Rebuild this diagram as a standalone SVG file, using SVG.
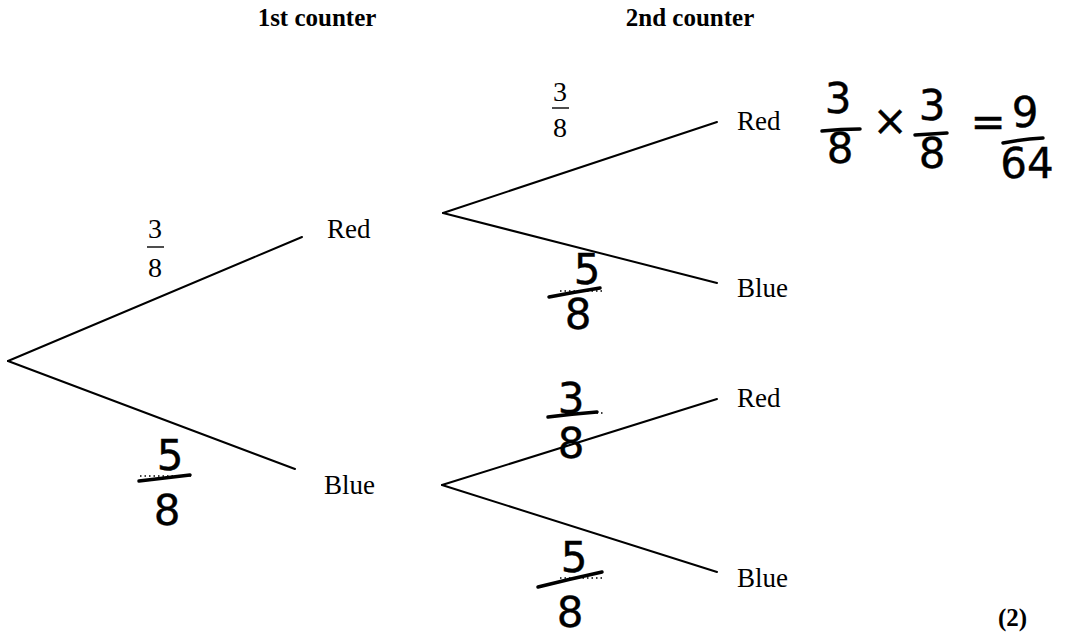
<svg xmlns="http://www.w3.org/2000/svg" width="1067" height="636" viewBox="0 0 1067 636">
  <style>
    .branch { stroke: #000; stroke-width: 2; fill: none; stroke-linecap: round; }
    .label { font-family: "Liberation Serif", "Times New Roman", serif; font-size: 27px; fill: #000; }
    .head { font-family: "Liberation Serif", "Times New Roman", serif; font-size: 25px; font-weight: bold; fill: #000; }
    .frac { font-family: "Liberation Serif", "Times New Roman", serif; font-size: 28px; fill: #000; text-anchor: middle; }
    .fbar { stroke: #000; stroke-width: 1.4; }
    .hand { font-family: "DejaVu Sans", "Noto Sans", sans-serif; font-size: 42px; fill: #000; stroke: #000; stroke-width: 0.4; text-anchor: middle; }
    .hbar { stroke: #000; stroke-width: 3.5; stroke-linecap: round; fill: none; }
    .dots { stroke: #000; stroke-width: 1.6; stroke-dasharray: 1.5 3; }
  </style>

  <!-- column headings -->
  <g id="headings">
    <text class="head" x="317" y="26" text-anchor="middle">1st counter</text>
    <text class="head" x="690" y="26" text-anchor="middle">2nd counter</text>
  </g>

  <!-- tree branches -->
  <g id="connectors">
    <line class="branch" x1="8" y1="361" x2="302" y2="237"/>
    <line class="branch" x1="8" y1="361" x2="295" y2="469"/>
    <line class="branch" x1="443" y1="213" x2="717" y2="122"/>
    <line class="branch" x1="443" y1="213" x2="717" y2="283"/>
    <line class="branch" x1="442" y1="485" x2="717" y2="399"/>
    <line class="branch" x1="442" y1="485" x2="717" y2="572"/>
  </g>

  <!-- first counter outcomes -->
  <g id="node-red-1">
    <text class="label" x="327" y="238">Red</text>
  </g>
  <g id="node-blue-1">
    <text class="label" x="324" y="494">Blue</text>
  </g>

  <!-- second counter outcomes -->
  <g id="node-red-red">
    <text class="label" x="737" y="130">Red</text>
  </g>
  <g id="node-red-blue">
    <text class="label" x="737" y="297">Blue</text>
  </g>
  <g id="node-blue-red">
    <text class="label" x="737" y="407">Red</text>
  </g>
  <g id="node-blue-blue">
    <text class="label" x="737" y="587">Blue</text>
  </g>

  <!-- printed branch probabilities -->
  <g id="prob-red-1">
    <text class="frac" x="155" y="238">3</text>
    <line class="fbar" x1="147" y1="247" x2="164" y2="247"/>
    <text class="frac" x="155" y="277">8</text>
  </g>
  <g id="prob-red-red">
    <text class="frac" x="560" y="101">3</text>
    <line class="fbar" x1="552" y1="108" x2="569" y2="108"/>
    <text class="frac" x="560" y="137">8</text>
  </g>

  <!-- written-in branch probabilities -->
  <g id="prob-blue-1">
    <line class="dots" x1="140" y1="476" x2="192" y2="476"/>
    <text class="hand" x="170" y="470">5</text>
    <path class="hbar" d="M139 481 Q165 478 190 475"/>
    <text class="hand" x="167" y="525">8</text>
  </g>
  <g id="prob-red-blue">
    <line class="dots" x1="560" y1="291" x2="605" y2="291"/>
    <text class="hand" x="587" y="284">5</text>
    <path class="hbar" d="M549 297 Q575 292 600 288"/>
    <text class="hand" x="578" y="329">8</text>
  </g>
  <g id="prob-blue-red">
    <line class="dots" x1="565" y1="413" x2="604" y2="413"/>
    <text class="hand" x="571" y="413">3</text>
    <path class="hbar" d="M548 417 Q572 414 597 412"/>
    <text class="hand" x="571" y="458">8</text>
  </g>
  <g id="prob-blue-blue">
    <line class="dots" x1="560" y1="578" x2="605" y2="578"/>
    <text class="hand" x="574" y="572">5</text>
    <path class="hbar" d="M538 587 Q570 579 602 572"/>
    <text class="hand" x="570" y="627">8</text>
  </g>

  <!-- worked product for red then red -->
  <g id="working">
    <text class="hand" x="838" y="113">3</text>
    <path class="hbar" d="M822 131 Q841 129 860 129"/>
    <text class="hand" x="840" y="163">8</text>
    <text class="hand" x="890" y="135" font-size="32">×</text>
    <text class="hand" x="932" y="120">3</text>
    <path class="hbar" d="M915 135 Q931 134 947 133"/>
    <text class="hand" x="932" y="168">8</text>
    <text class="hand" x="988" y="136">=</text>
    <text class="hand" x="1025" y="127">9</text>
    <path class="hbar" d="M1003 143 Q1023 139 1043 138"/>
    <text class="hand" x="1027" y="178">64</text>
  </g>

  <!-- mark allocation -->
  <g id="marks">
    <text class="head" x="998" y="626" font-size="27">(2)</text>
  </g>
</svg>
